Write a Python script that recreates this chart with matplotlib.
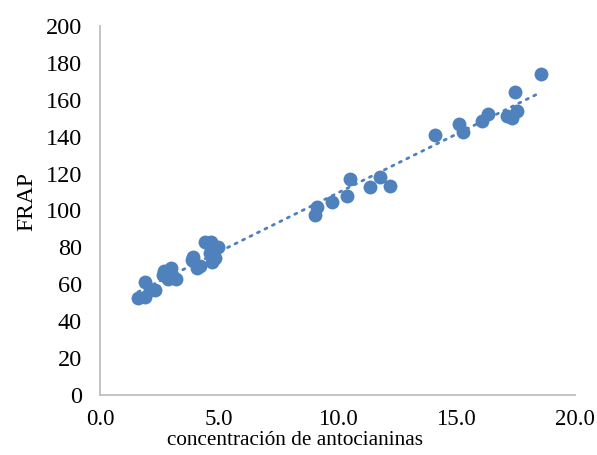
import numpy as np
import matplotlib
matplotlib.use("Agg")
import matplotlib.pyplot as plt

# Data
antocianinas = [1.6, 1.9, 1.9, 2.1, 2.3, 2.65, 2.7, 3.0, 2.85, 3.2,
                3.87, 3.9, 4.1, 4.2, 4.42, 4.67, 4.63, 4.7, 4.85, 4.97,
                9.05, 9.14, 9.77, 10.4, 10.53, 11.37, 11.79, 12.2,
                14.1, 15.12, 15.28, 16.08, 16.34, 17.14, 17.35, 17.56, 17.47, 18.57]
frap = [52.5, 53.0, 61.0, 57.0, 57.0, 65.0, 67.0, 69.0, 63.0, 63.0,
        73.0, 75.0, 69.0, 70.0, 83.0, 83.0, 77.0, 72.0, 74.0, 80.0,
        97.5, 102.0, 104.5, 108.0, 117.0, 112.5, 118.0, 113.0,
        141.0, 147.0, 142.5, 148.5, 152.0, 151.0, 150.0, 154.0, 164.0, 174.0]

x_ticks = [0.0, 5.0, 10.0, 15.0, 20.0]
y_ticks = [0, 20, 40, 60, 80, 100, 120, 140, 160, 180, 200]

color = '#4f81bd'

plt.rcParams['font.family'] = ['Liberation Serif', 'DejaVu Serif']

fig = plt.figure(figsize=(5.97, 4.55), dpi=100)
ax = fig.add_axes([0.1675, 0.132, 0.7955, 0.811])

x = np.array(antocianinas)
y = np.array(frap)
ax.scatter(x, y, s=100, color=color, zorder=3, linewidths=0)

# linear trendline
m, b = np.polyfit(x, y, 1)
xl = np.array([x.min(), x.max()])
ax.plot(xl, m * xl + b, color=color, lw=2.0, linestyle=(0, (0.8, 2.2)),
        dash_capstyle='round', zorder=2)

ax.set_xlim(0, 20)
ax.set_ylim(0, 200)
ax.set_xticks(x_ticks)
ax.set_xticklabels([f"{v:.1f}" for v in x_ticks])
ax.set_yticks(y_ticks)
ax.set_yticklabels([str(v) for v in y_ticks])
ax.tick_params(axis='both', length=0)
ax.tick_params(axis='y', pad=13, labelsize=17.5)
ax.tick_params(axis='x', pad=10, labelsize=16.5)

for s in ['top', 'right']:
    ax.spines[s].set_visible(False)
for s in ['left', 'bottom']:
    ax.spines[s].set_color('#bfbfbf')
    ax.spines[s].set_linewidth(1.3)

ax.set_xlabel('concentración de antocianinas', fontsize=15.3, labelpad=1)
ax.xaxis.label.set_x(0.41)
ax.set_ylabel('FRAP', fontsize=17, labelpad=6)
ax.yaxis.label.set_y(0.523)

fig.savefig('out.png', dpi=100)
